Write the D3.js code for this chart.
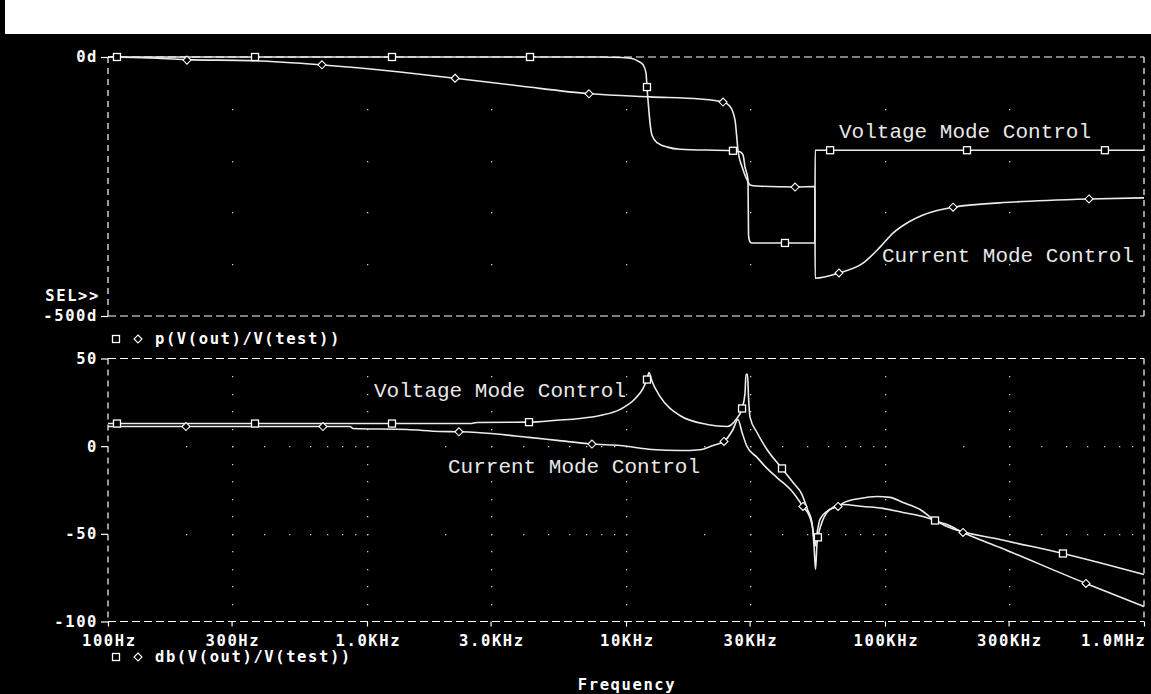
<!DOCTYPE html>
<html>
<head>
<meta charset="utf-8">
<script src="https://cdn.jsdelivr.net/npm/d3@7"></script>
<style>
  html, body { margin: 0; padding: 0; background: #000; }
  svg { display: block; }
</style>
</head>
<body>
<svg id="chart" width="1151" height="694"></svg>
<script>
// ---- Axis ticks ----
const freqTicks = [100, 300, 1000, 3000, 10000, 30000, 100000, 300000, 1000000];
const freqTickLabels = ["100Hz", "300Hz", "1.0KHz", "3.0KHz", "10KHz", "30KHz", "100KHz", "300KHz", "1.0MHz"];
const phaseTicks = [0, -500];
const phaseTickLabels = ["0d", "-500d"];
const magTicks = [50, 0, -50, -100];
const magTickLabels = ["50", "0", "-50", "-100"];

// ---- Phase traces: p(V(out)/V(test)) in degrees ----
const voltagePhaseHz = [100, 7940, 9660, 10550, 11130, 11640, 11950, 12050, 12160, 12380, 12600, 13230, 14460, 16140, 25880, 27560, 28300, 28800, 29580, 29720, 30130, 30640, 53600, 53750, 1000000];
const voltagePhaseDeg = [0, 0, -1, -3, -8, -15, -31, -58, -83, -127, -151, -166, -174, -178, -181, -183, -189, -212, -237, -344, -357, -359, -359, -180, -180];

const currentPhaseHz = [100, 145, 200, 353, 659, 1341, 2188, 3900, 7260, 12380, 19310, 23700, 25190, 26360, 26830, 27060, 28060, 29320, 30130, 32060, 44960, 53600, 53750, 66420, 82230, 95710, 107400, 124900, 140300, 183200, 312000, 613300, 1000000];
const currentPhaseDeg = [0, -2, -5, -7, -15, -29, -41, -56, -71, -77, -81, -87, -95, -122, -160, -180, -212, -237, -247, -249, -251, -250, -427, -417, -398, -367, -340, -317, -305, -290, -280, -274, -272];

// ---- Magnitude traces: db(V(out)/V(test)) ----
const voltageMagHz = [100, 2500, 2660, 4222, 5415, 6640, 7940, 9490, 10840, 11640, 12050, 12270, 12600, 13530, 16140, 20540, 24550, 26600, 28060, 28800, 29060, 29450, 29720, 30130, 32060, 35020, 40020, 44150, 47810, 50220, 52240, 53170, 53930, 54600, 55580, 57650, 61380, 68810, 82230, 98270, 117300, 140300, 156000, 173500, 277900, 486500, 1000000];
const voltageMagDb = [12.9, 12.9, 13.5, 13.7, 14.8, 15.8, 17.5, 21, 27, 33, 38, 42, 37, 28.4, 17.5, 12.4, 11.2, 15.2, 21.5, 30, 41, 41, 28, 16.4, 7.8, -1.9, -12.7, -20.7, -27.6, -36.1, -43.5, -56, -70.3, -56, -49.2, -41.8, -36.1, -33.3, -34.4, -35.5, -37.8, -40.1, -42.4, -45.8, -53.2, -61.2, -73.2];

const currentMagHz = [100, 860, 883, 1427, 1914, 2265, 2660, 4222, 5415, 7390, 9490, 12600, 16140, 19310, 21680, 23900, 25880, 27060, 28060, 29320, 32060, 35020, 38280, 44150, 48230, 51340, 52700, 53670, 54600, 56090, 61380, 65880, 68810, 80030, 93130, 104500, 117300, 136600, 156000, 173500, 200100, 277900, 597000, 1000000];
const currentMagDb = [11.2, 11.2, 10.1, 9.5, 8.4, 8.2, 7.8, 5.0, 3.3, 1.2, 0.4, -1.9, -2.5, -2.0, 0.4, 2.7, 9.5, 15.2, 7.8, -0.2, -6.4, -12.7, -17.9, -26.4, -34.4, -40.7, -47.5, -57, -50, -41.8, -36, -34.4, -32.5, -29.8, -28.7, -29.2, -32.1, -36.1, -42.4, -44.7, -49.2, -57.8, -78.3, -91.4];

// ---- Trace markers (square = voltage mode, diamond = current mode) ----
const voltagePhaseMarkerHz = [108.3, 369.5, 1249, 4260, 12050, 25880, 41100, 61380, 207300, 706600];
const voltagePhaseMarkerDeg = [0, 0, 0, 0, -58, -181, -359, -180, -180, -180];
const currentPhaseMarkerHz = [201.8, 670, 2188, 7194, 23700, 44960, 66420, 183200, 613300];
const currentPhaseMarkerDeg = [-6, -15, -41, -71, -87, -251, -417, -290, -274];
const voltageMagMarkerHz = [108.3, 369.5, 1249, 4222, 12050, 28060, 40020, 55080, 156000, 486500];
const voltageMagMarkerDb = [12.9, 12.9, 12.9, 13.7, 38, 21.5, -12.7, -52, -42.4, -61.2];
const currentMagMarkerHz = [200, 676, 2265, 7390, 23900, 48230, 65880, 200100, 597000];
const currentMagMarkerDb = [11.2, 11.2, 8.2, 1.2, 2.7, -34.4, -34.4, -49.2, -78.3];

// ---- Layout ----
const svg = d3.select("#chart");
const W = 1151, H = 694;
const left = 108, right = 1144;
const phaseTop = 57, phaseBottom = 316;
const magTop = 358.5, magBottom = 621.5;

const boldFont = "'DejaVu Sans Mono', monospace";
const boldSize = 15.5;
const boldSpacing = "1.6px";
const thinFont = "'Liberation Mono', monospace";
const traceColor = "#ececec";

svg.append("rect").attr("width", W).attr("height", H).attr("fill", "#000");
svg.append("rect").attr("x", 5).attr("y", 0).attr("width", W - 5).attr("height", 34).attr("fill", "#fff");

const x = d3.scaleLog().domain([100, 1000000]).range([left, right]);
const yPhase = d3.scaleLinear().domain([-500, 0]).range([phaseBottom, phaseTop]);
const yMag = d3.scaleLinear().domain([-100, 50]).range([magBottom, magTop]);

function boldText(sel) {
  return sel.attr("fill", "#fff").attr("font-family", boldFont).attr("font-weight", "bold")
    .attr("font-size", boldSize).attr("letter-spacing", boldSpacing);
}

// ---- Dotted grids ----
const minorFreqs = [];
[100, 1000, 10000, 100000].forEach(dec => { for (let m = 1; m <= 9; m++) minorFreqs.push(dec * m); });
minorFreqs.push(1000000);
const innerMajors = freqTicks.slice(1, -1);
const grid = svg.append("g").attr("fill", "#c8c8c8");

// phase plot: dots at major intersections
[-100, -200, -300, -400].forEach(v => {
  innerMajors.forEach(f => {
    grid.append("rect").attr("x", Math.round(x(f))).attr("y", Math.round(yPhase(v))).attr("width", 1.3).attr("height", 1.3);
  });
});
// magnitude plot: vertical dotted lines every 10 dB, horizontal dotted rows at 0 and -50
for (let v = 40; v >= -90; v -= 10) {
  innerMajors.forEach(f => {
    grid.append("rect").attr("x", Math.round(x(f))).attr("y", Math.round(yMag(v))).attr("width", 1.3).attr("height", 1.3);
  });
}
[0, -50].forEach(v => {
  minorFreqs.filter(f => f > 100 && f < 1000000).forEach(f => {
    grid.append("rect").attr("x", Math.round(x(f))).attr("y", Math.round(yMag(v))).attr("width", 1.3).attr("height", 1.3);
  });
});

// ---- Dashed frames ----
function frame(top, bottom) {
  const g = svg.append("g").attr("stroke", "#fff").attr("stroke-width", 1.2).attr("fill", "none");
  g.append("line").attr("x1", left).attr("x2", right).attr("y1", top).attr("y2", top).attr("stroke-dasharray", "8,4");
  g.append("line").attr("x1", left).attr("x2", right).attr("y1", bottom).attr("y2", bottom).attr("stroke-dasharray", "8,4");
  g.append("line").attr("x1", left).attr("x2", left).attr("y1", top).attr("y2", bottom).attr("stroke-dasharray", "6,5");
  g.append("line").attr("x1", right).attr("x2", right).attr("y1", top).attr("y2", bottom).attr("stroke-dasharray", "6,5");
}
frame(phaseTop, phaseBottom);
frame(magTop, magBottom);

// ---- Axes ----
function styleAxis(g) {
  g.select(".domain").remove();
  g.selectAll(".tick line").attr("stroke", "#fff").attr("stroke-width", 1.2);
  boldText(g.selectAll(".tick text"));
}

svg.append("g").attr("transform", `translate(${left},0)`)
  .call(d3.axisLeft(yPhase).tickValues(phaseTicks).tickFormat((d, i) => phaseTickLabels[i]).tickSize(7).tickPadding(3))
  .call(styleAxis);

svg.append("g").attr("transform", `translate(${left},0)`)
  .call(d3.axisLeft(yMag).tickValues(magTicks).tickFormat((d, i) => magTickLabels[i]).tickSize(7).tickPadding(3))
  .call(styleAxis);

const xAxisG = svg.append("g").attr("transform", `translate(0,${magBottom})`)
  .call(d3.axisBottom(x).tickValues(freqTicks).tickFormat((d, i) => freqTickLabels[i]).tickSize(5).tickPadding(8))
  .call(styleAxis);
xAxisG.selectAll(".tick text").attr("dx", "0.8px");
xAxisG.selectAll(".tick text").filter((d, i) => i === freqTicks.length - 1).attr("text-anchor", "end").attr("dx", "2px");

boldText(svg.append("text").attr("x", 100).attr("y", 296).attr("dy", "0.35em").attr("text-anchor", "end"))
  .text("SEL>>");

boldText(svg.append("text").attr("x", (left + right) / 2 + 1).attr("y", 685).attr("dy", "0.35em").attr("text-anchor", "middle"))
  .text("Frequency");

// ---- Marker shapes ----
function square(g, cx, cy) {
  g.append("rect").attr("x", cx - 3.5).attr("y", cy - 3.5).attr("width", 7).attr("height", 7)
    .attr("fill", "#000").attr("stroke", "#fff").attr("stroke-width", 1.3);
}
function diamond(g, cx, cy) {
  g.append("path").attr("d", `M${cx},${cy - 4}L${cx + 4},${cy}L${cx},${cy + 4}L${cx - 4},${cy}Z`)
    .attr("fill", "#000").attr("stroke", "#fff").attr("stroke-width", 1.1);
}

// ---- Legends ----
function legend(y, label) {
  const g = svg.append("g");
  square(g, 116, y);
  diamond(g, 138, y);
  boldText(g.append("text").attr("x", 155).attr("y", y).attr("dy", "0.35em")).text(label);
}
legend(339, "p(V(out)/V(test))");
legend(657, "db(V(out)/V(test))");

// ---- Traces ----
function trace(hz, vals, yScale) {
  const pts = hz.map((f, i) => [f, vals[i]]);
  const line = d3.line().x(d => x(d[0])).y(d => yScale(d[1])).curve(d3.curveMonotoneX);
  svg.append("path").attr("d", line(pts)).attr("fill", "none")
    .attr("stroke", traceColor).attr("stroke-width", 1.6).attr("stroke-linejoin", "round");
}
function markers(hz, vals, yScale, shape) {
  const g = svg.append("g");
  hz.forEach((f, i) => shape(g, x(f), yScale(vals[i])));
}

trace(voltagePhaseHz, voltagePhaseDeg, yPhase);
trace(currentPhaseHz, currentPhaseDeg, yPhase);
trace(voltageMagHz, voltageMagDb, yMag);
trace(currentMagHz, currentMagDb, yMag);

markers(voltagePhaseMarkerHz, voltagePhaseMarkerDeg, yPhase, square);
markers(currentPhaseMarkerHz, currentPhaseMarkerDeg, yPhase, diamond);
markers(voltageMagMarkerHz, voltageMagMarkerDb, yMag, square);
markers(currentMagMarkerHz, currentMagMarkerDb, yMag, diamond);

// ---- Trace annotations ----
function note(px, py, label) {
  svg.append("text").attr("x", px).attr("y", py)
    .attr("fill", "#e8e8e8").attr("font-family", thinFont).attr("font-size", 21)
    .text(label);
}
note(839, 138, "Voltage Mode Control");
note(882, 262, "Current Mode Control");
note(374, 397, "Voltage Mode Control");
note(448, 473, "Current Mode Control");
</script>
</body>
</html>
